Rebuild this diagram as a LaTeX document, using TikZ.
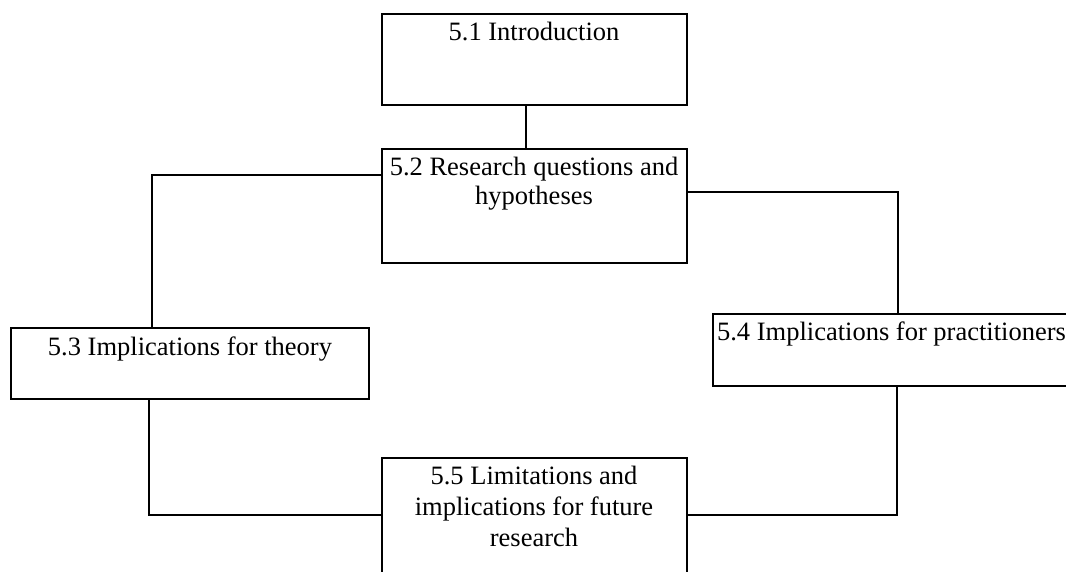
\documentclass[tikz,border=0pt]{standalone}
\usepackage{fontspec}
\setmainfont{Liberation Serif}
\begin{document}
\begin{tikzpicture}[x=1pt,y=-1pt,
  box/.style={draw=black, line width=1.8pt, fill=white, inner sep=0pt, minimum width=#1},
  txt/.style={anchor=base, inner sep=0pt, font=\fontsize{26.5}{30}\selectfont},
  link/.style={draw=black, line width=1.8pt}]
  \clip (0,0) rectangle (1066,571);
  \fill[white] (0,0) rectangle (1066,571);

  % chapter sections as boxes
  \node[box=305pt, minimum height=91pt]  (b1) at (534.5,59.5) {};
  \node[box=305pt, minimum height=114pt] (b2) at (534.5,206) {};
  \node[box=358pt, minimum height=71pt]  (b3) at (190,363.5) {};
  \node[box=357pt, minimum height=72pt]  (b4) at (891.5,350) {};
  \node[box=305pt, minimum height=130pt] (b5) at (534.5,523) {};

  % titles
  \node[txt] (t1)  at (534,40)  {5.1 Introduction};
  \node[txt] (t2a) at (534,175) {5.2 Research questions and};
  \node[txt] (t2b) at (534,204) {hypotheses};
  \node[txt] (t3)  at (190,355) {5.3 Implications for theory};
  \node[txt] (t4)  at (891.5,340) {5.4 Implications for practitioners};
  \node[txt] (t5a) at (534,484) {5.5 Limitations and};
  \node[txt] (t5b) at (534,515) {implications for future};
  \node[txt] (t5c) at (534,546) {research};

  % connectors
  \coordinate (c12) at (526,0);
  \draw[link] (b1.south -| c12) -- (b2.north -| c12);
  \coordinate (cl) at (152,175);
  \draw[link] (b2.west |- cl) -- (cl) -- (cl |- b3.north);
  \coordinate (cr) at (898,192);
  \draw[link] (b2.east |- cr) -- (cr) -- (cr |- b4.north);
  \coordinate (bl) at (149,515);
  \draw[link] (bl |- b3.south) -- (bl) -- (bl -| b5.west);
  \coordinate (br) at (897,515);
  \draw[link] (br |- b4.south) -- (br) -- (br -| b5.east);
\end{tikzpicture}
\end{document}
